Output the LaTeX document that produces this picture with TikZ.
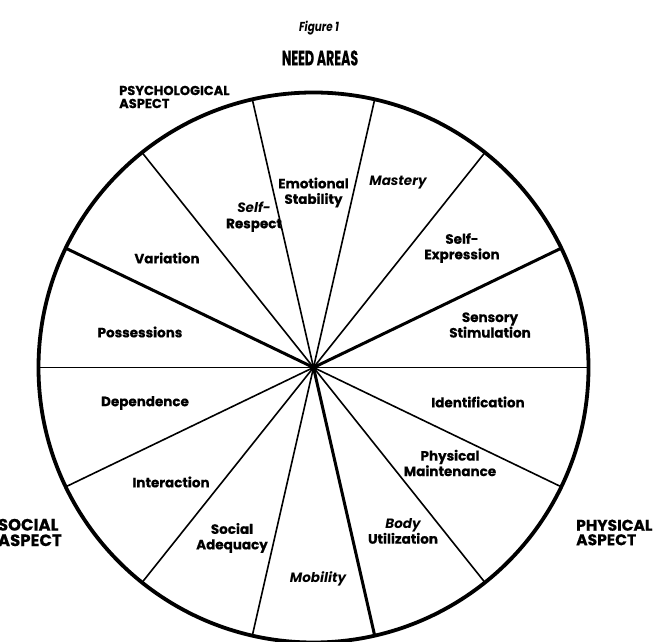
\documentclass[tikz,border=0pt]{standalone}
\usepackage{fontspec}
\setmainfont{Poppins}[BoldFeatures={FakeBold=0.5}]
\newfontfamily\headfont[FakeStretch=0.6, BoldFeatures={FakeBold=0.5}]{Poppins}
\newfontfamily\figfont[FakeStretch=0.8]{Poppins}

\tikzset{
  need/.style={font=\bfseries\fontsize{13.5}{15.5}\selectfont, align=center, inner sep=1pt},
  aspect/.style={font=\bfseries\fontsize{15.5}{14.5}\selectfont, align=left, inner sep=0pt},
  spoke/.style={line width=1.6pt},
  mainspoke/.style={line width=3pt},
}

\begin{document}
\begin{tikzpicture}[x=1pt, y=1pt]
\useasboundingbox (-313.5,-274.5) rectangle (342.5,367.5);

\coordinate (c) at (0,0);
\foreach \i in {0,...,13}
{
    \coordinate (s\i) at ({\i*360/14}:275);
    \draw[spoke] (c)--(s\i);
}
\foreach \i in {1,6,11}
    \draw[mainspoke] (c)--(s\i);
\draw[line width=3.8pt] (c) circle (275);
\fill (c) circle (4);

% titles
\node (fig) at (5.5,339.5) {\figfont\bfseries\itshape\fontsize{13}{15}\selectfont Figure 1};
\node (title) at (6.5,309.5) {\headfont\bfseries\fontsize{21}{24}\selectfont NEED AREAS};

% aspects
\node[aspect, anchor=west, font=\bfseries\fontsize{13}{13}\selectfont] (psy) at (-194.5,270.5) {PSYCHOLOGICAL\\ASPECT};
\node[aspect, anchor=east, font=\bfseries\fontsize{16.5}{15.5}\selectfont] (soc) at (-251.5,-165) {SOCIAL\\ASPECT};
\node[aspect, anchor=west] (phy) at (262.5,-165) {PHYSICAL\\ASPECT};

% need areas
\node[need] (emo) at (0,175) {Emotional\\Stability};
\node[need] (mas) at (84.5,184.5) {\itshape Mastery};
\node[need] (sexp) at (148.5,119.5) {Self-\\Expression};
\node[need] (sens) at (176.5,42.5) {Sensory\\Stimulation};
\node[need] (ide) at (164.5,-34.5) {Identification};
\node[need] (pmai) at (136.5,-95.5) {Physical\\Maintenance};
\node[need] (body) at (89.5,-163.5) {{\itshape Body}\\Utilization};
\node[need] (mob) at (4.5,-211.5) {\itshape Mobility};
\node[need] (sadq) at (-81.5,-170.5) {Social\\Adequacy};
\node[need] (inter) at (-142.5,-114.5) {Interaction};
\node[need] (dep) at (-168.5,-35.5) {Dependence};
\node[need] (pos) at (-173.5,35.5) {Possessions};
\node[need] (var) at (-146.5,109.5) {Variation};
\node[need] (sres) at (-59.5,150.5) {{\itshape Self-}\\Respect};

\end{tikzpicture}
\end{document}
